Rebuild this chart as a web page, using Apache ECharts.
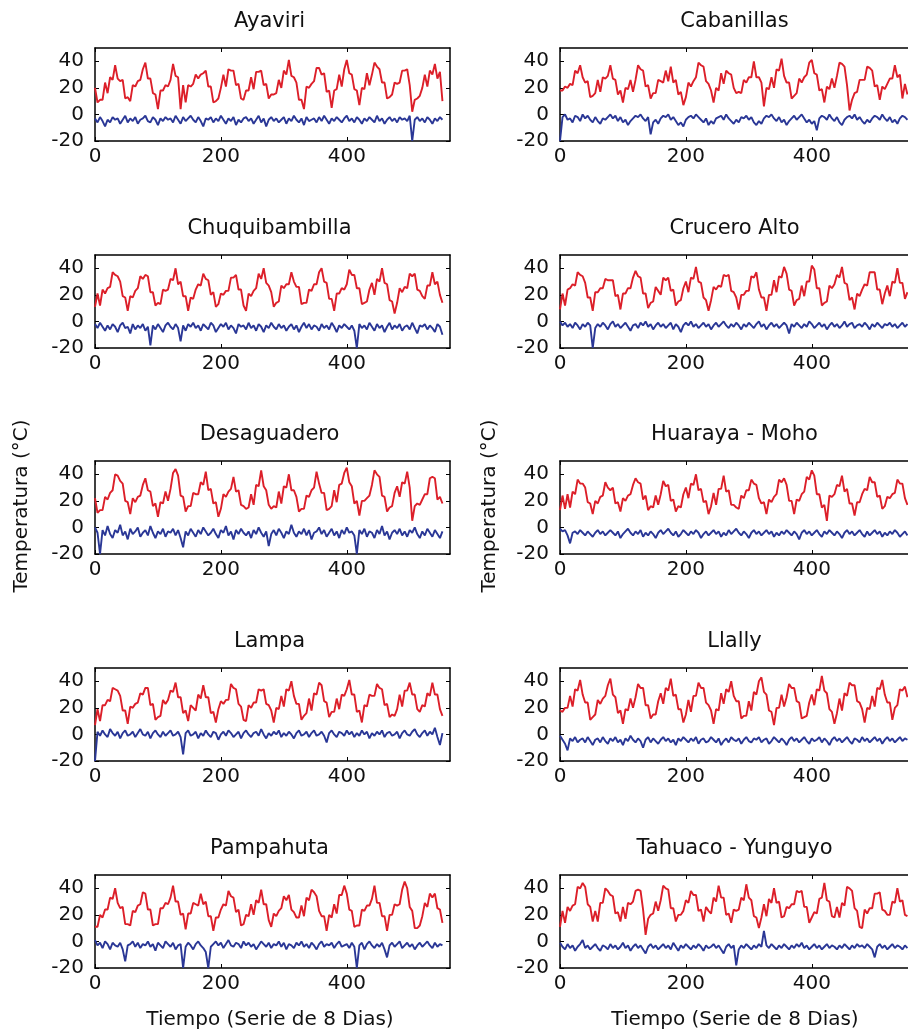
<!DOCTYPE html>
<html>
<head>
<meta charset="utf-8">
<script src="https://cdn.jsdelivr.net/npm/echarts@6/dist/echarts.min.js"></script>
<style>
  html, body { margin: 0; padding: 0; background: #fff; overflow: hidden; }
  #chart { width: 908px; height: 1036px; }
</style>
</head>
<body>
<div id="chart"></div>
<script>
// 8-day composite temperature series (one value every STEP composites)
const STEP = 4;
const X_TICKS = [0, 200, 400];
const Y_TICKS = [-20, 0, 20, 40];

const stations = ['Ayaviri', 'Cabanillas', 'Chuquibambilla', 'Crucero Alto', 'Desaguadero',
  'Huaraya - Moho', 'Lampa', 'Llally', 'Pampahuta', 'Tahuaco - Yunguyo'];

const ayaviriDay = [20,9,11,11,24,16,28,26,37,27, 25,26,12,13,10,22,21,25,26,34, 39,27,27,16,15,4,18,18,22,21,
  26,38,29,28,4,22,9,22,21,23, 30,27,30,31,33,21,21,9,10,12, 20,30,21,34,33,33,22,23,12,11,
  18,18,28,19,32,32,33,22,23,12, 15,15,16,26,20,33,30,41,29,28, 24,11,11,4,21,20,23,25,35,35,
  30,31,17,18,5,18,19,30,21,34, 41,31,30,19,18,7,20,19,31,22, 30,39,36,34,24,24,12,13,15,24,
  23,24,33,33,34,22,2,11,12,14, 20,30,21,33,30,38,27,32,10];
const ayaviriNight = [-3,-6,-2,-5,-9,-4,-6,-2,-4,-3, -7,-4,-1,-6,-3,-5,-2,-7,-4,-3, -1,-5,-6,-2,-4,-8,-3,-5,-2,-4,
  -3,-6,-1,-4,-7,-2,-5,-3,-1,-4, -6,-2,-5,-9,-3,-4,-2,-6,-3,-5, -1,-4,-7,-3,-5,-2,-8,-4,-6,-3,
  -2,-5,-3,-7,-4,-1,-6,-3,-9,-4, -2,-5,-3,-6,-4,-2,-7,-3,-5,-1, -4,-6,-3,-8,-2,-5,-4,-3,-6,-2,
  -5,-1,-4,-7,-3,-5,-2,-4,-6,-3, -1,-5,-3,-6,-2,-4,-7,-3,-5,-2, -4,-6,-1,-5,-3,-7,-4,-2,-5,-3,
  -6,-2,-4,-3,-5,-1,-20,-4,-2,-5, -3,-6,-2,-4,-7,-3,-5,-2,-4];

const cabanillasDay = [18,18,21,20,23,22,33,31,37,28, 24,25,13,14,16,26,17,28,27,29, 37,27,26,15,18,9,20,19,26,17,
  26,37,34,33,21,22,12,16,16,26, 25,24,33,25,36,24,26,15,17,7, 13,24,21,25,28,39,37,36,25,23,
  18,9,20,18,31,23,33,31,30,20, 16,17,16,26,24,28,28,40,28,28, 24,6,20,19,28,20,34,33,42,29,
  24,24,12,14,16,27,24,28,30,39, 41,31,30,18,19,9,21,19,27,20, 29,39,38,36,22,3,11,16,17,26,
  26,26,36,35,33,21,22,11,21,19, 23,27,27,37,28,30,12,23,15];
const cabanillasNight = [-20,-2,0,-4,-3,-6,-1,-2,-5,0, -3,-1,-4,-6,-2,-5,-7,-3,-4,-2, 0,-3,-1,-5,-2,-6,-4,-8,-5,-3,
  -1,-2,0,-3,-5,-2,-15,-6,-4,-7, -3,-1,-2,0,-4,-2,-5,-8,-6,-9, -4,-2,-1,-3,0,-2,-4,-6,-3,-8,
  -5,-7,-3,-2,-1,-4,0,-3,-5,-7, -4,-6,-2,-3,-1,-4,-2,-6,-8,-5, -7,-3,-1,-2,0,-3,-5,-2,-6,-4,
  -8,-5,-3,-1,-4,-2,0,-3,-6,-4, -7,-5,-12,-3,-1,-2,-4,0,-3,-5, -2,-6,-8,-4,-2,-1,-3,0,-4,-2,
  -5,-7,-4,-6,-3,-1,-2,-4,0,-3, -5,-2,-6,-4,-7,-3,-1,-2,-4];

const chuquibambillaDay = [11,21,12,24,21,25,26,37,35,34, 30,19,18,8,19,18,23,25,34,32, 35,34,22,22,12,14,13,24,23,24,
  32,31,40,28,30,19,19,8,18,17, 24,28,27,36,32,31,20,22,11,13, 21,20,23,23,33,33,35,24,24,12,
  8,21,19,23,25,36,32,40,29,27, 22,11,14,15,27,25,28,28,37,30, 26,26,13,14,14,24,23,28,28,37,
  40,30,29,17,17,8,21,21,25,24, 28,39,35,35,25,25,13,14,15,24, 29,20,32,30,40,29,28,16,15,6,
  14,25,22,26,25,36,34,36,24,23, 19,17,27,27,37,28,30,20,14];
const chuquibambillaNight = [-2,-5,-1,-4,-7,-3,-6,-2,-4,-8, -3,-1,-5,-4,-9,-2,-6,-3,-5,-2, -7,-4,-18,-3,-6,-2,-5,-8,-3,-1,
  -4,-6,-2,-5,-15,-3,-7,-2,-4,-1, -5,-3,-7,-2,-4,-6,-1,-3,-8,-5, -2,-4,-1,-6,-3,-5,-9,-2,-4,-3,
  -6,-1,-5,-3,-7,-2,-4,-8,-3,-5, -1,-4,-6,-2,-5,-3,-7,-4,-2,-6, -3,-8,-4,-1,-5,-2,-6,-3,-4,-7,
  -2,-5,-3,-6,-1,-4,-8,-3,-5,-2, -4,-6,-3,-7,-20,-2,-5,-3,-6,-1, -4,-7,-2,-5,-3,-8,-4,-1,-6,-3,
  -5,-2,-7,-4,-3,-6,-1,-5,-9,-3, -4,-2,-6,-3,-5,-8,-2,-4,-10];

const cruceroAltoDay = [9,21,12,24,25,28,27,37,35,34, 29,18,18,8,22,22,25,25,32,31, 31,31,19,20,9,21,21,25,25,33,
  38,34,33,21,21,10,14,15,26,23, 20,33,31,33,23,24,12,15,16,25, 30,22,33,32,41,30,29,18,16,8,
  16,26,24,27,26,35,34,35,23,22, 18,9,20,20,23,23,34,33,37,24, 18,18,8,20,20,31,22,34,33,41,
  36,24,23,12,16,17,27,19,30,30, 42,39,25,25,12,14,15,27,25,28, 35,33,41,29,28,16,18,9,21,19,
  24,28,27,37,37,37,24,24,13,21, 27,19,30,29,40,29,29,17,22];
const cruceroAltoNight = [0,-3,-1,-4,-2,-5,-1,-3,-6,-2, -4,-1,-3,-20,-5,-2,-4,-1,-3,-6, -2,0,-4,-2,-5,-3,-1,-4,-7,-3,
  -2,-5,-1,-3,0,-4,-2,-6,-3,-1, -4,-2,-5,-3,-1,-6,-2,-4,-8,-3, -1,-3,0,-4,-2,-5,-3,-1,-4,-2,
  -6,-3,-1,-4,-2,0,-3,-5,-2,-4, -1,-3,-6,-2,-4,-1,-3,-5,-2,0, -4,-2,-6,-3,-1,-4,-2,-5,-3,-1,
  -3,-9,-2,-4,-1,-3,-5,-2,-4,0, -2,-5,-3,-1,-4,-2,-6,-3,-1,-4, -2,-5,-3,0,-4,-2,-1,-5,-3,-2,
  -4,-1,-3,-6,-2,-4,-1,-3,-5,-2, -3,-1,-4,-2,-5,-3,-1,-4,-2];

const desaguaderoDay = [22,11,13,13,23,21,26,28,40,39, 35,33,20,19,10,22,19,23,24,32, 37,28,27,16,18,8,19,18,27,20,
  29,41,44,39,24,23,12,16,16,26, 25,25,34,32,42,28,29,18,19,8, 14,25,23,27,29,38,27,28,17,16,
  14,15,25,17,32,31,43,31,28,17, 14,16,15,27,18,31,30,40,28,28, 23,12,14,14,24,23,28,30,42,33,
  26,26,13,14,16,28,19,32,33,41, 45,34,31,18,20,9,20,20,22,24, 32,43,40,38,24,23,12,15,16,26,
  31,23,34,33,42,30,5,16,18,17, 21,25,25,37,38,37,21,23,18];
const desaguaderoNight = [0,-4,-20,-2,-6,1,-5,-8,-2,-4, 2,-6,-3,-9,-1,-5,-3,0,-7,-4, -2,-6,1,-4,-8,-3,-5,-1,-7,-3,
  -4,-1,-6,-2,-8,-15,-3,-6,-1,-4, -7,-2,-5,0,-3,-6,-4,-1,-5,-8, -2,-4,1,-6,-3,-9,-2,-5,-1,-4,
  -6,-3,-8,-2,-5,0,-4,-7,-3,-14, -5,-2,-6,-1,-4,-8,-3,-5,2,-4, -7,-3,-5,-1,-6,-2,-9,-4,-3,0,
  -5,-2,-7,-4,-1,-6,-3,-8,-2,-5, 0,-4,-3,-6,-20,-2,-5,-1,-7,-3, -4,-8,-2,-5,1,-6,-3,-9,-4,-2,
  -5,-1,-6,-3,-7,-2,-4,0,-5,-8, -3,-6,-1,-4,-7,-2,-5,-8,-3];

const huarayaMohoDay = [13,24,14,25,15,27,25,36,33,33, 30,19,18,10,20,18,23,24,34,30, 28,30,18,19,12,22,20,24,25,32,
  37,34,33,21,24,13,16,15,24,17, 25,35,31,32,20,21,12,16,15,25, 30,22,33,32,40,28,29,19,20,10,
  16,26,17,29,29,39,27,28,17,17, 15,14,24,22,28,28,36,33,32,22, 18,19,10,21,19,23,25,36,34,37,
  32,20,20,10,21,20,25,27,38,36, 43,39,25,25,15,17,5,24,23,25, 32,31,39,27,29,18,18,9,19,19,
  25,29,28,38,34,34,23,24,14,16, 23,22,25,26,36,33,33,22,17];
const huarayaMohoNight = [-1,-3,-2,-6,-12,-4,-3,-5,-2,-4, -6,-3,-5,-7,-4,-2,-5,-3,-6,-4, -2,-4,-6,-3,-8,-5,-3,-1,-4,-6,
  -3,-5,-2,-7,-4,-6,-3,-5,-8,-4, -2,-5,-3,-1,-4,-6,-3,-7,-5,-2, -4,-6,-3,-5,-2,-4,-8,-5,-3,-6,
  -4,-2,-5,-3,-7,-4,-6,-2,-5,-3, -1,-4,-6,-3,-5,-8,-4,-2,-5,-3, -6,-4,-2,-5,-3,-7,-4,-6,-3,-5,
  -2,-4,-6,-3,-5,-9,-4,-2,-5,-3, -6,-4,-2,-5,-7,-3,-5,-2,-4,-6, -3,-5,-8,-4,-2,-5,-3,-6,-4,-2,
  -5,-7,-3,-6,-4,-2,-5,-3,-7,-4, -6,-3,-5,-2,-4,-7,-5,-3,-6];

const lampaDay = [7,19,10,22,22,26,25,35,34,33, 29,18,18,8,21,20,23,24,31,30, 35,35,22,23,11,13,14,26,23,26,
  33,32,39,28,28,16,18,10,22,20, 18,30,27,37,28,28,16,17,9,19, 25,23,26,26,38,35,34,23,21,11,
  10,22,20,24,24,34,33,34,23,22, 18,9,20,19,29,21,34,33,40,29, 23,23,11,14,16,27,18,31,30,39,
  37,25,24,13,17,17,27,19,30,29, 34,41,30,30,17,18,9,22,21,30, 29,29,38,35,34,22,23,13,15,14,
  19,30,21,33,33,39,30,30,19,17, 22,21,31,29,39,30,30,19,14];
const lampaNight = [-20,2,-1,3,0,-2,4,1,-1,2, -3,1,3,-1,0,2,-2,1,4,0, -1,2,-3,1,3,0,-2,2,-1,1,
  3,-1,0,2,-2,-15,1,3,-1,0, 2,-3,1,-1,3,0,-2,2,1,-4, 0,2,-1,3,1,-2,0,2,-3,1,
  3,0,-2,1,2,-1,4,0,-3,1, -1,2,0,3,-2,1,-1,2,0,-3, 1,3,-1,0,2,-2,1,3,-1,0,
  2,-1,-6,1,3,0,-2,2,1,-1, 3,0,2,-2,1,-1,3,0,2,-3, 1,-1,2,0,3,-2,1,2,-1,0,
  2,-3,1,3,0,-1,2,4,0,-2, 1,3,-1,2,0,5,-2,-8,1];

const llallyDay = [18,17,20,20,29,21,34,33,41,30, 24,24,11,13,15,26,23,27,29,37, 42,30,28,16,18,8,19,18,27,20,
  28,38,35,35,22,22,12,15,15,25, 31,23,35,33,42,29,30,19,19,9, 15,26,17,29,29,39,35,35,24,22,
  18,8,19,18,31,23,34,32,40,29, 25,25,12,14,14,25,18,32,30,40, 43,32,30,18,17,7,20,20,30,21,
  28,38,35,35,25,24,12,13,14,24, 30,22,34,33,44,33,31,19,17,8, 16,27,18,31,29,39,37,37,25,24,
  19,9,20,19,29,21,35,34,41,30, 24,24,11,20,22,34,33,36,28];
const llallyNight = [-1,-4,-7,-12,-3,-5,-2,-6,-4,-3, -6,-2,-5,-8,-4,-3,-6,-2,-5,-7, -3,-5,-2,-6,-4,-8,-3,-5,-1,-4,
  -6,-3,-5,-10,-4,-2,-6,-3,-5,-7, -4,-2,-5,-3,-6,-4,-8,-3,-5,-2, -4,-6,-3,-5,-2,-7,-4,-3,-6,-5,
  -2,-4,-6,-3,-8,-5,-3,-6,-2,-4, -5,-3,-7,-4,-2,-5,-6,-3,-4,-2, -6,-4,-3,-7,-5,-2,-4,-6,-3,-5,
  -8,-4,-2,-5,-3,-6,-4,-2,-5,-7, -3,-5,-4,-2,-6,-3,-5,-8,-4,-2, -5,-3,-6,-4,-2,-5,-7,-3,-4,-6,
  -2,-5,-3,-6,-4,-2,-5,-3,-7,-4, -2,-5,-3,-6,-4,-2,-5,-3,-4];

const pampahutaDay = [11,11,20,18,24,24,33,32,40,29, 25,26,13,13,12,23,22,27,28,37, 36,24,24,12,13,13,25,25,29,28,
  33,42,30,30,20,21,9,21,21,29, 28,27,36,28,30,19,19,8,18,18, 24,28,27,38,34,33,22,24,12,13,
  20,19,28,20,31,29,39,28,28,16, 11,21,19,23,25,34,31,35,24,22, 18,18,27,19,33,31,39,37,34,23,
  19,19,8,20,18,28,21,35,35,42, 36,24,23,11,12,12,24,23,27,27, 32,42,29,29,19,19,8,20,20,28,
  27,28,39,45,40,26,23,10,10,12, 19,29,26,36,33,36,25,24,14];
const pampahutaNight = [1,-3,-1,-5,0,-2,-6,-1,-3,-4, -1,-6,-15,-3,-2,0,-4,-1,-5,-2, -3,0,-4,-2,-7,-1,-3,-5,0,-2,
  -4,-1,-6,-3,-2,-20,-4,-1,-3,-6, -2,0,-3,-5,-8,-20,-4,-2,0,-3, -1,-5,-2,1,-3,-4,-1,-2,-5,0,
  -3,-1,-4,-2,-6,-3,0,-2,-4,-1, -5,-2,-3,0,-4,-1,-6,-2,-3,-5, -1,-3,0,-4,-2,-5,-1,-3,-6,-2,
  0,-4,-2,-3,-1,-5,-2,0,-4,-3, -2,-5,-1,-4,-20,-3,-1,-6,-2,0, -3,-5,-2,-4,-1,-6,-12,-3,-1,-4,
  -2,0,-5,-3,-1,-4,-2,-6,-3,-1, -4,-2,0,-3,-5,-1,-4,-2,-3];

const tahuacoYunguyoDay = [11,23,14,26,23,27,28,41,40,44, 41,28,26,15,23,15,29,29,40,38, 35,34,21,22,15,26,17,29,28,30,
  38,39,38,24,5,17,20,21,30,23, 31,42,40,39,25,25,15,20,20,23, 31,29,38,35,35,23,24,15,26,23,
  21,33,30,42,33,33,20,21,14,24, 23,24,33,31,43,33,31,19,18,10, 18,28,19,32,29,40,29,30,18,19,
  26,25,28,28,38,37,38,26,26,14, 18,22,21,32,33,44,31,30,19,18, 26,18,29,27,41,40,38,25,23,11,
  10,24,21,25,25,36,36,37,24,23, 20,20,30,29,40,30,31,20,19];
const tahuacoYunguyoNight = [-1,-4,-6,-2,-5,-3,-7,-4,-2,1, -5,-3,-6,-4,-2,-5,-7,-3,-4,-6, -2,-5,-3,-6,-4,-1,-5,-3,-7,-4,
  -2,-5,-3,-6,-9,-4,-2,-5,-3,-6, -4,-2,-5,-3,-6,-1,-4,-7,-3,-5, -2,-4,-6,-3,-5,-2,-4,-7,-3,-5,
  -4,-2,-5,-3,-6,-9,-4,-2,-5,-3, -18,-6,-3,-5,-2,-4,-6,-3,-5,-2, -4,8,-3,-5,-2,-4,-6,-3,-5,-2,
  -4,-6,-3,-5,-2,-4,-1,-5,-3,-6, -4,-2,-5,-3,-6,-4,-2,-5,-3,-4, -6,-3,-5,-2,-4,-6,-3,-5,-2,-4,
  -3,-5,-2,-4,-6,-12,-4,-2,-5,-3, -6,-4,-2,-5,-3,-4,-6,-3,-5];

const daySeries = [ayaviriDay, cabanillasDay, chuquibambillaDay, cruceroAltoDay, desaguaderoDay,
  huarayaMohoDay, lampaDay, llallyDay, pampahutaDay, tahuacoYunguyoDay];
const nightSeries = [ayaviriNight, cabanillasNight, chuquibambillaNight, cruceroAltoNight, desaguaderoNight,
  huarayaMohoNight, lampaNight, llallyNight, pampahutaNight, tahuacoYunguyoNight];

// ---- layout: 5 rows x 2 columns of small panels ----
const FONT = 'DejaVu Sans';
const COL_LEFT = [95, 560];
const ROW_TOP = [48, 255, 461, 668, 875];
const PANEL_W = 355;
const PANEL_H = 93;
const X_MAX = 564;
const Y_MIN = -20, Y_MAX = 50;
const RED = '#dc1f29';
const BLUE = '#2a3796';

const toPoints = arr => arr.map((v, i) => [i * STEP, v]);

const grid = [], xAxis = [], yAxis = [], series = [], graphic = [];
const frameLine = { show: true, onZero: false, lineStyle: { color: '#000', width: 1.5 } };
const innerTick = (vals) => ({ show: true, inside: true, length: 4, customValues: vals,
  lineStyle: { color: '#000', width: 1 } });
const tickLabel = { color: '#111', fontFamily: FONT, fontSize: 20 };

stations.forEach((name, k) => {
  const col = k % 2, row = Math.floor(k / 2);
  const left = COL_LEFT[col], top = ROW_TOP[row];
  grid.push({ left: left, top: top, width: PANEL_W, height: PANEL_H,
    containLabel: false, outerBoundsMode: 'none' });

  // bottom + top x axes (top one mirrors ticks only)
  xAxis.push({ type: 'value', gridIndex: k, min: 0, max: X_MAX, position: 'bottom',
    axisLine: frameLine, axisTick: innerTick(X_TICKS), splitLine: { show: false },
    axisLabel: Object.assign({ margin: 6, customValues: X_TICKS }, tickLabel) });
  xAxis.push({ type: 'value', gridIndex: k, min: 0, max: X_MAX, position: 'top',
    axisLine: frameLine, axisTick: innerTick(X_TICKS), splitLine: { show: false },
    axisLabel: { show: false } });
  // left + right y axes
  yAxis.push({ type: 'value', gridIndex: k, min: Y_MIN, max: Y_MAX, position: 'left',
    axisLine: frameLine, axisTick: innerTick(Y_TICKS), splitLine: { show: false },
    axisLabel: Object.assign({ margin: 11, customValues: Y_TICKS }, tickLabel) });
  yAxis.push({ type: 'value', gridIndex: k, min: Y_MIN, max: Y_MAX, position: 'right',
    axisLine: frameLine, axisTick: innerTick(Y_TICKS), splitLine: { show: false },
    axisLabel: { show: false } });

  const lineStyle = (c) => ({ color: c, width: 1.9, join: 'bevel' });
  series.push({ type: 'line', xAxisIndex: 2 * k, yAxisIndex: 2 * k, data: toPoints(daySeries[k]),
    showSymbol: false, lineStyle: lineStyle(RED), itemStyle: { color: RED }, z: 3 });
  series.push({ type: 'line', xAxisIndex: 2 * k, yAxisIndex: 2 * k, data: toPoints(nightSeries[k]),
    showSymbol: false, lineStyle: lineStyle(BLUE), itemStyle: { color: BLUE }, z: 3 });

  graphic.push({ type: 'text', x: left + PANEL_W / 2 - 3, y: top - 26,
    style: { text: name, font: '21px "' + FONT + '"', fill: '#111', textAlign: 'center', textVerticalAlign: 'middle' } });
});

// shared axis names
[22, 490].forEach(x => graphic.push({ type: 'text', x: x, y: 506, rotation: Math.PI / 2,
  style: { text: 'Temperatura (°C)', font: '20px "' + FONT + '"', fill: '#111', textAlign: 'center', textVerticalAlign: 'middle' } }));
[270, 735].forEach(x => graphic.push({ type: 'text', x: x, y: 1020,
  style: { text: 'Tiempo (Serie de 8 Dias)', font: '20px "' + FONT + '"', fill: '#111', textAlign: 'center', textVerticalAlign: 'middle' } }));

const chart = echarts.init(document.getElementById('chart'), null, { renderer: 'canvas' });
chart.setOption({
  backgroundColor: '#fff',
  animation: false,
  grid: grid,
  xAxis: xAxis,
  yAxis: yAxis,
  series: series,
  graphic: graphic
});
</script>
</body>
</html>
